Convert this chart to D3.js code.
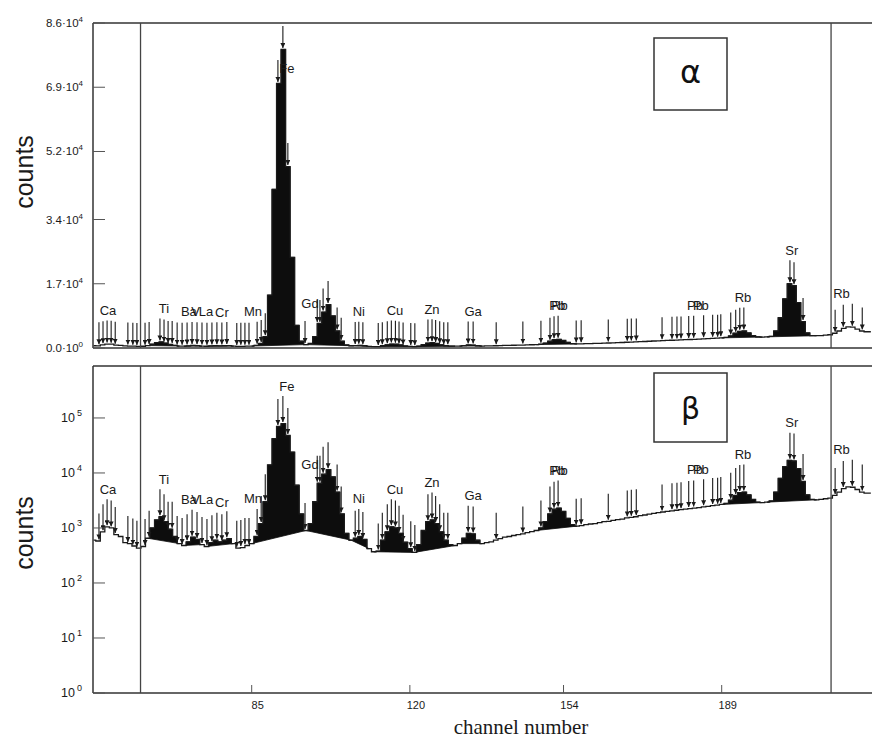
<!DOCTYPE html>
<html><head><meta charset="utf-8">
<script src="https://cdn.jsdelivr.net/npm/d3@7"></script>
<style>body{margin:0;background:#fff} svg{display:block}</style>
</head><body><svg id="c" width="872" height="741"></svg>
<script>
// ---------- data ----------
const firstChannel = 50;
const counts = [
  600, 580, 850, 1050, 1000, 760, 700, 540, 520, 470,          // 50-59
  430, 460, 650, 1000, 1400, 1600, 1300, 950, 700, 520,        // 60-69
  480, 560, 680, 620, 500, 460, 540, 600, 560, 600,            // 70-79
  640, 520, 430, 440, 480, 520, 700, 1200, 3000, 14000,        // 80-89
  42000, 70000, 79000, 48000, 24000, 6000, 1800, 900, 1200, 3000, // 90-99
  6500, 9500, 11500, 8500, 4500, 1800, 800, 600, 650, 700,     // 100-109
  620, 420, 370, 380, 600, 850, 1050, 1000, 800, 550,          // 110-119
  420, 360, 500, 900, 1300, 1400, 1200, 850, 600, 500,         // 120-129
  480, 520, 650, 800, 780, 600, 520, 540, 560, 600,            // 130-139
  640, 680, 700, 730, 760, 780, 820, 860, 900, 1000,           // 140-149
  1300, 1800, 2200, 2300, 2000, 1500, 1150, 1080, 1100, 1150,  // 150-159
  1180, 1200, 1250, 1300, 1320, 1380, 1420, 1450, 1520, 1560,  // 160-169
  1600, 1680, 1720, 1780, 1850, 1900, 1950, 2000, 2050, 2100,  // 170-179
  2150, 2200, 2250, 2300, 2350, 2420, 2480, 2550, 2600, 2680,  // 180-189
  2800, 3200, 3900, 4400, 4500, 4000, 3300, 2950, 2900, 2950,  // 190-199
  3100, 4500, 8000, 13000, 17000, 16500, 12000, 7000, 4000, 3300, // 200-209
  3250, 3300, 3400, 3500, 3900, 4500, 5200, 5600, 5500, 5000,  // 210-219
  4500, 4300, 4300                                             // 220-222
];
const peakRanges = [[62,69],[70,74],[75,81],[85,97],[97,107],[107,111],[112,121],[121,130],[131,136],[148,157],[189,198],[199,210]];
const markerChannels = [60.4, 213.2];
const arrowChannels = [
  51.2, 52.1, 53.0, 53.9, 54.8, 57.6, 58.7, 59.6, 61.4, 62.3,
  64.7, 65.6, 66.5, 67.4, 68.5, 69.6, 70.7, 71.8, 72.9, 74.0, 75.1, 76.2, 77.3, 78.4, 79.5,
  81.7, 82.6, 83.5, 84.4, 86.2, 87.1, 88.0, 90.8, 91.9, 93.0, 96.8,
  99.5, 100.1, 100.8, 101.9, 103.9, 104.8, 107.9, 108.7, 109.6,
  113.0, 113.9, 115.0, 115.9, 116.8, 117.6, 118.5, 120.2, 121.1,
  124.0, 124.9, 125.7, 126.6, 127.5, 128.4, 132.9, 134.0, 139.1, 145.0, 149.0,
  151.0, 151.9, 152.8, 156.8, 157.9, 163.9, 168.1, 169.0, 170.1, 175.8,
  178.0, 179.1, 180.0, 181.7, 182.8, 185.0, 187.0, 188.1, 188.8,
  191.0, 192.1, 193.0, 193.9, 204.1, 205.0, 207.0, 214.1, 215.9, 217.9, 220.1
];
const elementNames    = ["Ca","Ti","Ba","V","La","Cr","Mn","Fe","Gd","Ni","Cu","Zn","Ga","Pb","Rb","Pb","Pb","Rb","Sr","Rb"];
const elementChannels = [53.2,65.6,71.1,72.6,74.9,78.4,85.3,92.8,97.9,108.7,116.7,124.9,134.0,152.6,153.1,183.1,184.4,193.7,204.5,215.5];
const linearTicks = [0, 17000, 34000, 52000, 69000, 86000];
const linearTickMantissa = ["0.0","1.7","3.4","5.2","6.9","8.6"];
const linearTickExponent = ["0","4","4","4","4","4"];
const logTicks = [1, 10, 100, 1000, 10000, 100000];
const logTickExponent = ["0","1","2","3","4","5"];
const logMax = 880000;
const xTicks = [85, 120, 154, 189];
const panelTags = ["α", "β"];

// ---------- drawing ----------
const svg = d3.select("#c");
const ink = "#1a1a1a";
const sans = "Liberation Sans, Arial, sans-serif";
const plotLeft = 93, plotRight = 872;
const x = d3.scaleLinear().domain([85, 189]).range([251.7, 721.7]);
const data = counts.map((c, i) => ({ch: firstChannel + i, c}));

const panels = [
  {top: 23, bottom: 348, y: d3.scaleLinear().domain([0, 86000]).range([348, 23]), arrowLen: 22, labelMin: 73,
   tagBox: [654, 38, 73, 72]},
  {top: 366, bottom: 693, y: d3.scaleLog().domain([1, logMax]).range([693, 366]), arrowLen: 26, labelMin: 380,
   tagBox: [654, 373, 73, 69]}
];

const defs = svg.append("defs");
defs.append("marker").attr("id", "ah").attr("viewBox", "0 0 10 10")
  .attr("refX", 10).attr("refY", 5).attr("markerWidth", 5).attr("markerHeight", 5)
  .attr("markerUnits", "userSpaceOnUse").attr("orient", "auto")
  .append("path").attr("d", "M0,0 L10,5 L0,10 z").attr("fill", ink);

function valueAt(ch) { return counts[Math.round(ch) - firstChannel]; }
function localMax(ch) {
  let m = 0;
  for (let k = Math.ceil(ch - 1.5); k <= Math.floor(ch + 1.5); k++) {
    const v = counts[k - firstChannel];
    if (v !== undefined && v > m) m = v;
  }
  return m;
}

// group labels that sit on top of each other in the original (drawn as one text)
const labelGroups = [];
elementNames.forEach((n, i) => {
  const last = labelGroups[labelGroups.length - 1];
  if (last && elementChannels[i] - last[last.length - 1].ch < 2.5) last.push({n, ch: elementChannels[i]});
  else labelGroups.push([{n, ch: elementChannels[i]}]);
});

panels.forEach((p, pi) => {
  const clipId = "clip" + pi;
  defs.append("clipPath").attr("id", clipId).append("rect")
    .attr("x", plotLeft).attr("y", p.top).attr("width", plotRight - plotLeft).attr("height", p.bottom - p.top);
  const g = svg.append("g").attr("clip-path", `url(#${clipId})`);
  const line = d3.line().x(d => x(d.ch)).y(d => p.y(d.c)).curve(d3.curveStep);

  // peak fills
  peakRanges.forEach(([a, b]) => {
    const pts = data.filter(d => d.ch >= a && d.ch <= b);
    g.append("path").attr("d", line(pts) + "Z").attr("fill", "#0d0d0d").attr("stroke", "#0d0d0d").attr("stroke-width", 0.8);
  });
  // spectrum
  g.append("path").attr("d", line(data)).attr("fill", "none").attr("stroke", ink).attr("stroke-width", 1.3);

  // arrows
  arrowChannels.forEach(ch => {
    const yEnd = p.y(valueAt(ch)) - 1.5;
    g.append("line").attr("x1", x(ch)).attr("x2", x(ch))
      .attr("y1", yEnd - p.arrowLen).attr("y2", yEnd)
      .attr("stroke", ink).attr("stroke-width", 1.1).attr("marker-end", "url(#ah)");
  });

  // element labels
  labelGroups.forEach(grp => {
    const yl = Math.max(d3.min(grp, d => p.y(localMax(d.ch))) - 2 - p.arrowLen - 5, p.labelMin);
    const t = svg.append("text").attr("y", yl).attr("font-family", sans).attr("font-size", 13).attr("fill", ink);
    let prevEnd = null, startX = null;
    grp.forEach((d, k) => {
      const ts = t.append("tspan").text(d.n);
      const len = ts.node().getComputedTextLength();
      const want = x(d.ch) - len / 2;
      if (k === 0) { startX = want; t.attr("x", want); }
      else ts.attr("dx", want - prevEnd);
      prevEnd = want + len;
    });
  });

  // frame
  const fr = svg.append("g").attr("stroke", "#333").attr("stroke-width", 1.5);
  fr.append("line").attr("x1", plotLeft).attr("x2", plotRight).attr("y1", p.top).attr("y2", p.top);
  fr.append("line").attr("x1", plotLeft).attr("x2", plotRight).attr("y1", p.bottom).attr("y2", p.bottom);
  fr.append("line").attr("x1", plotLeft).attr("x2", plotLeft).attr("y1", p.top).attr("y2", p.bottom);
  // region markers
  markerChannels.forEach(ch => {
    svg.append("line").attr("x1", x(ch)).attr("x2", x(ch)).attr("y1", p.top).attr("y2", p.bottom)
      .attr("stroke", "#444").attr("stroke-width", 1.3);
  });

  // y ticks
  const ticks = pi === 0 ? linearTicks : logTicks;
  ticks.forEach((t, i) => {
    const yy = p.y(t);
    svg.append("line").attr("x1", plotLeft).attr("x2", plotLeft + 12).attr("y1", yy).attr("y2", yy)
      .attr("stroke", "#555").attr("stroke-width", 1);
    const txt = svg.append("text").attr("x", pi === 0 ? 83 : 82).attr("y", yy + 4)
      .attr("text-anchor", "end").attr("font-family", sans).attr("fill", ink);
    if (pi === 0) {
      txt.attr("font-size", 11.5);
      txt.append("tspan").text(linearTickMantissa[i] + "·10");
      txt.append("tspan").attr("dy", -5).attr("font-size", 8).text(linearTickExponent[i]);
    } else {
      txt.attr("font-size", 12.5);
      txt.append("tspan").text("10");
      txt.append("tspan").attr("dx", 2).attr("dy", -6).attr("font-size", 9).text(logTickExponent[i]);
    }
  });

  // axis title
  svg.append("text").attr("transform", `translate(33,${pi === 0 ? 172 : 533}) rotate(-90)`)
    .attr("text-anchor", "middle").attr("font-family", sans)
    .attr("font-size", 25).attr("fill", ink).text("counts");

  // panel tag
  const [bx, by, bw, bh] = p.tagBox;
  svg.append("rect").attr("x", bx).attr("y", by).attr("width", bw).attr("height", bh)
    .attr("fill", "#fff").attr("stroke", "#333").attr("stroke-width", 1.5);
  svg.append("text").attr("x", bx + bw / 2).attr("y", by + bh / 2 + (pi === 0 ? 9 : 11))
    .attr("text-anchor", "middle").attr("font-family", "DejaVu Sans, sans-serif")
    .attr("font-size", pi === 0 ? 32 : 30).attr("fill", "#111").text(panelTags[pi]);
});

// x ticks (bottom panel)
const bp = panels[1];
xTicks.forEach(t => {
  svg.append("line").attr("x1", x(t)).attr("x2", x(t)).attr("y1", bp.bottom).attr("y2", bp.bottom - 8)
    .attr("stroke", "#555").attr("stroke-width", 1);
  svg.append("text").attr("x", x(t) + 6).attr("y", bp.bottom + 16).attr("text-anchor", "middle")
    .attr("font-family", sans).attr("font-size", 11).attr("fill", ink).text(t);
});
svg.append("text").attr("x", 521).attr("y", 734).attr("text-anchor", "middle")
  .attr("font-family", "Liberation Serif, Times New Roman, serif").attr("font-size", 21)
  .attr("fill", ink).text("channel number");
</script>
</body></html>
